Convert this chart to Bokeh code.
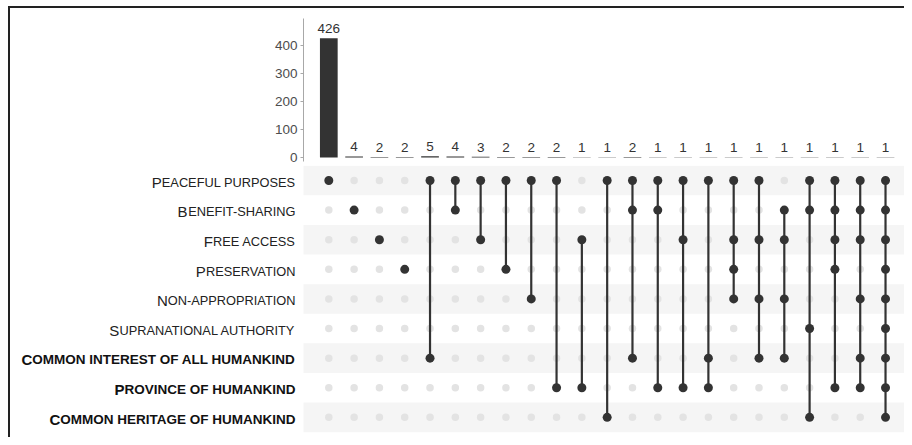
from bokeh.plotting import figure
from bokeh.models import Range1d, FixedTicker, ColumnDataSource
from bokeh.layouts import column
from bokeh.core.properties import value
from bokeh.embed import file_html
from bokeh.resources import INLINE

# ---------------- data ----------------
sets = ["Peaceful purposes", "Benefit-sharing", "Free access", "Preservation",
        "Non-appropriation", "Supranational authority",
        "Common interest of all humankind", "Province of humankind",
        "Common heritage of humankind"]
bold_sets = ["Common interest of all humankind", "Province of humankind",
             "Common heritage of humankind"]

counts = [426, 4, 2, 2, 5, 4, 3, 2, 2, 2, 1, 1, 2, 1, 1, 1, 1, 1, 1, 1, 1, 1, 1]

members = [
    ["Peaceful purposes"],
    ["Benefit-sharing"],
    ["Free access"],
    ["Preservation"],
    ["Peaceful purposes", "Common interest of all humankind"],
    ["Peaceful purposes", "Benefit-sharing"],
    ["Peaceful purposes", "Free access"],
    ["Peaceful purposes", "Preservation"],
    ["Peaceful purposes", "Non-appropriation"],
    ["Peaceful purposes", "Province of humankind"],
    ["Free access", "Province of humankind"],
    ["Peaceful purposes", "Common heritage of humankind"],
    ["Peaceful purposes", "Benefit-sharing", "Common interest of all humankind"],
    ["Peaceful purposes", "Benefit-sharing", "Province of humankind"],
    ["Peaceful purposes", "Free access", "Province of humankind"],
    ["Peaceful purposes", "Common interest of all humankind", "Province of humankind"],
    ["Peaceful purposes", "Free access", "Preservation", "Non-appropriation"],
    ["Peaceful purposes", "Free access", "Non-appropriation",
     "Common interest of all humankind"],
    ["Benefit-sharing", "Free access", "Non-appropriation",
     "Common interest of all humankind"],
    ["Peaceful purposes", "Benefit-sharing", "Supranational authority",
     "Common heritage of humankind"],
    ["Peaceful purposes", "Benefit-sharing", "Free access", "Preservation",
     "Province of humankind"],
    ["Peaceful purposes", "Benefit-sharing", "Free access", "Non-appropriation",
     "Common interest of all humankind", "Province of humankind"],
    ["Peaceful purposes", "Benefit-sharing", "Free access", "Preservation",
     "Non-appropriation", "Supranational authority",
     "Common interest of all humankind", "Province of humankind",
     "Common heritage of humankind"],
]

y_ticks = [0, 100, 200, 300, 400]

# ---------------- style ----------------
FONT = "Liberation Sans"
DARK = "#333333"
W = 894
LEFT = 293
ncol = len(counts)
nrow = len(sets)
XR0, XR1 = -1.0, ncol - 0.25
px_per_unit = (W - LEFT) / (XR1 - XR0)
x_range_bar = Range1d(XR0, XR1)
x_range_mat = Range1d(XR1 - W / px_per_unit, XR1)

# Arial-metric advance widths (per 1000 em) used to lay out fake small caps
REG = dict(A=667, B=667, C=722, D=722, E=667, F=611, G=778, H=722, I=278, J=500,
           K=667, L=556, M=833, N=722, O=778, P=667, Q=778, R=722, S=667, T=611,
           U=722, V=667, W=944, X=667, Y=667, Z=611)
REG[" "] = 278
REG["-"] = 333
BOLD = dict(REG, A=722, B=722, J=556, K=722, L=611)
KERN = {"AT": -74, "AV": -74, "AW": -37, "AY": -74, "LT": -74, "LV": -74,
        "LW": -74, "LY": -74, "PA": -74, "TA": -74, "VA": -74, "WA": -37,
        "YA": -74, "FA": -55, "RT": -18, "RV": -18, "RW": -18, "RY": -18}


def text_width(s, size, table):
    w = sum(table.get(ch, 600) for ch in s)
    w += sum(KERN.get(s[i:i + 2], 0) for i in range(len(s) - 1))
    return w * size / 1000.0


# ---------------- bar chart ----------------
p1 = figure(width=W, height=157, x_range=x_range_bar, y_range=Range1d(-14, 496),
            output_backend="svg", toolbar_location=None, title=None,
            x_axis_location=None, min_border_left=LEFT, min_border_right=0,
            min_border_top=10, min_border_bottom=4)
p1.frame_align = False
p1.outline_line_color = None
p1.xgrid.visible = False
p1.ygrid.visible = False
p1.background_fill_color = "white"
p1.border_fill_color = "white"

cols = list(range(ncol))
bsrc = ColumnDataSource(dict(x=cols, top=counts, label=[str(c) for c in counts]))
p1.vbar(x="x", top="top", bottom=0, width=0.7, source=bsrc,
        fill_color=DARK, line_color=None)
p1.text(x="x", y="top", text="label", source=bsrc, text_align="center",
        text_baseline="bottom", y_offset=-5, text_font=value(FONT),
        text_font_size="13.5px", text_color=DARK)

ax = p1.yaxis[0]
ax.ticker = FixedTicker(ticks=y_ticks)
ax.axis_line_color = "#a8a8a8"
ax.major_tick_line_color = "#a8a8a8"
ax.major_tick_out = 3
ax.major_tick_in = 0
ax.minor_tick_line_color = None
ax.major_label_standoff = 3
ax.major_label_text_font = FONT
ax.major_label_text_font_size = "13.5px"
ax.major_label_text_color = "#4d4d4d"

# ---------------- matrix ----------------
p2 = figure(width=W, height=272, x_range=x_range_mat,
            y_range=Range1d(nrow - 0.32, -0.507),
            output_backend="svg", toolbar_location=None, title=None,
            x_axis_location=None, y_axis_location=None,
            min_border_left=0, min_border_right=0,
            min_border_top=0, min_border_bottom=0)
p2.frame_align = False
p2.outline_line_color = None
p2.xgrid.visible = False
p2.ygrid.visible = False
p2.background_fill_color = "white"
p2.border_fill_color = "white"

stripe_rows = [r for r in range(nrow) if r % 2 == 0]
p2.hbar(y=stripe_rows, left=XR0, right=XR1 + 3, height=1.0,
        fill_color="#f5f5f5", line_color=None)

on_x, on_y, off_x, off_y = [], [], [], []
sx0, sx1, sy0, sy1 = [], [], [], []
for c, mem in enumerate(members):
    rows = [sets.index(m) for m in mem]
    for r in range(nrow):
        if r in rows:
            on_x.append(c)
            on_y.append(r)
        else:
            off_x.append(c)
            off_y.append(r)
    if len(rows) > 1:
        sx0.append(c)
        sx1.append(c)
        sy0.append(min(rows))
        sy1.append(max(rows))

p2.scatter(x=off_x, y=off_y, size=7.5, fill_color="#e3e3e3", line_color=None)
p2.segment(x0=sx0, y0=sy0, x1=sx1, y1=sy1, line_color=DARK, line_width=2.2)
p2.scatter(x=on_x, y=on_y, size=9, fill_color=DARK, line_color=None)

# set labels in (fake) small caps: capital initial + smaller uppercase rest
BIG = 15
for is_bold in (False, True):
    names = [s for s in sets if (s in bold_sets) == is_bold]
    small = 13.5 if is_bold else 12.8
    table = BOLD if is_bold else REG
    rows = [sets.index(s) for s in names]
    base_y = [r + 0.06 for r in rows]
    rest = [s[1:].upper() for s in names]
    first = [s[0].upper() for s in names]
    first_off = [-8 - text_width(t, small, table) for t in rest]
    style = "bold" if is_bold else "normal"
    color = "#111111" if is_bold else "#222222"
    src_rest = ColumnDataSource(dict(x=[XR0] * len(names), y=base_y, t=rest,
                                     off=[-8] * len(names)))
    src_first = ColumnDataSource(dict(x=[XR0] * len(names), y=base_y, t=first,
                                      off=first_off))
    p2.text(x="x", y="y", text="t", x_offset="off", source=src_rest,
            text_align="right", text_baseline="alphabetic",
            text_font=value(FONT), text_font_size=f"{small}px",
            text_font_style=style, text_color=color)
    p2.text(x="x", y="y", text="t", x_offset="off", source=src_first,
            text_align="right", text_baseline="alphabetic",
            text_font=value(FONT), text_font_size=f"{BIG}px",
            text_font_style=style, text_color=color)

layout = column(p1, p2, spacing=0,
                styles={"margin-left": "8px", "margin-top": "6px",
                        "border-left": "2px solid #222222",
                        "border-top": "2px solid #222222"})

open("out.html", "w").write(file_html(layout, INLINE))
